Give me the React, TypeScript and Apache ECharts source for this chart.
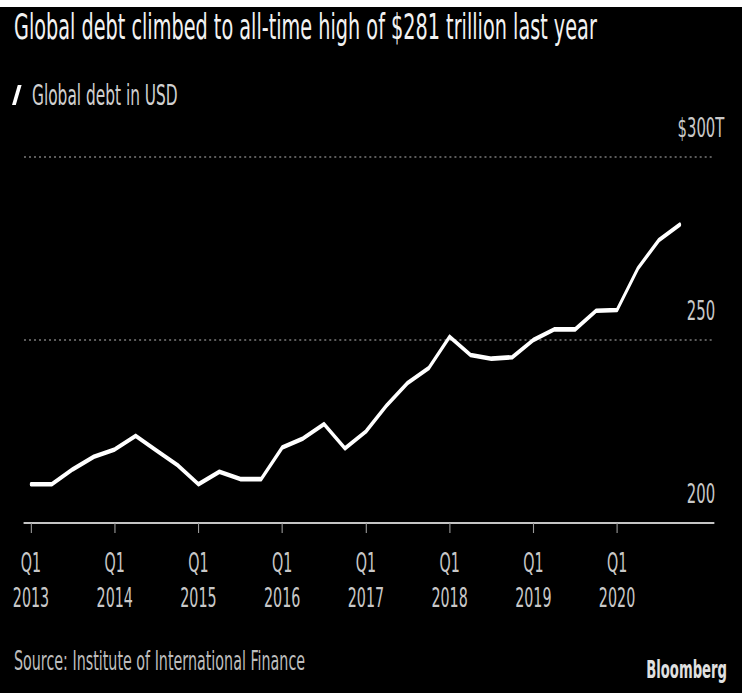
import React, { useEffect, useRef } from "react";
import * as echarts from "echarts";

// ---- data ----
const quarters = [
  "2013 Q1", "2013 Q2", "2013 Q3", "2013 Q4",
  "2014 Q1", "2014 Q2", "2014 Q3", "2014 Q4",
  "2015 Q1", "2015 Q2", "2015 Q3", "2015 Q4",
  "2016 Q1", "2016 Q2", "2016 Q3", "2016 Q4",
  "2017 Q1", "2017 Q2", "2017 Q3", "2017 Q4",
  "2018 Q1", "2018 Q2", "2018 Q3", "2018 Q4",
  "2019 Q1", "2019 Q2", "2019 Q3", "2019 Q4",
  "2020 Q1", "2020 Q2", "2020 Q3", "2020 Q4",
];
const globalDebt = [
  210.6, 210.6, 214.7, 218.1,
  220.1, 223.8, 219.8, 215.8,
  210.6, 214.0, 212.0, 212.0,
  220.6, 223.1, 227.0, 220.4,
  225.0, 232.2, 238.3, 242.3,
  250.9, 245.9, 244.9, 245.3,
  250.0, 252.9, 252.9, 258.0,
  258.2, 269.6, 277.3, 281.5,
];
const tickIndices = [0, 4, 8, 12, 16, 20, 24, 28];
const tickLabels = [
  "Q1\n2013", "Q1\n2014", "Q1\n2015", "Q1\n2016",
  "Q1\n2017", "Q1\n2018", "Q1\n2019", "Q1\n2020",
];
const yTicks = [200, 250, 300];
const yTickLabels = ["200", "250", "$300T"];

const titleText = "Global debt climbed to all-time high of $281 trillion last year";
const seriesName = "Global debt in USD";
const sourceText = "Source: Institute of International Finance";
const brandText = "Bloomberg";

// horizontal squeeze of the whole picture
const K = 0.55;
const W = 742 / K;
const H = 693;
const FONT = "DejaVu Sans";

export default function App() {
  const ref = useRef<HTMLDivElement>(null);

  useEffect(() => {
    if (!ref.current) return;
    const chart = echarts.init(ref.current, undefined, { renderer: "svg" });
    const px = (x: number) => x / K;

    chart.setOption({
      animation: false,
      backgroundColor: "#000",
      textStyle: { fontFamily: FONT },
      grid: {
        left: px(24),
        right: W - px(714),
        top: 157,
        bottom: H - 523,
        containLabel: false,
      },
      xAxis: {
        type: "value",
        min: -0.336,
        max: 32.63,
        axisLine: { show: true, lineStyle: { color: "#c4c4c4", width: 2 } },
        axisTick: {
          show: true,
          customValues: tickIndices,
          length: 10,
          lineStyle: { color: "#9a9a9a", width: 2 },
        },
        axisLabel: {
          customValues: tickIndices,
          formatter: (v: number) => {
            const i = tickIndices.indexOf(Math.round(v));
            return i >= 0 ? tickLabels[i] : "";
          },
          color: "#c8c8c8",
          fontSize: 26,
          fontFamily: FONT,
          lineHeight: 35,
          margin: 23,
        },
        splitLine: { show: false },
      },
      yAxis: {
        type: "value",
        position: "right",
        min: 200,
        max: 300,
        interval: 50,
        axisLine: { show: false },
        axisTick: { show: false },
        axisLabel: {
          inside: true,
          align: "center",
          verticalAlign: "bottom",
          margin: px(714) - px(701),
          padding: [0, 0, 15, 0],
          lineHeight: 28,
          color: "#c8c8c8",
          fontSize: 27,
          fontFamily: FONT,
          formatter: (v: number) => {
            const i = yTicks.indexOf(v);
            return i >= 0 ? yTickLabels[i] : "";
          },
        },
        splitLine: {
          show: true,
          lineStyle: { color: "#5c5c5c", width: 2, type: [3.6, 5.5] },
        },
      },
      series: [
        {
          name: seriesName,
          type: "line",
          data: quarters.map((q, i) => [i, globalDebt[i]]),
          showSymbol: false,
          symbol: "none",
          lineStyle: { color: "#ffffff", width: 4.6, join: "round", cap: "round" },
          itemStyle: { color: "#ffffff" },
          z: 5,
        },
      ],
      graphic: [
        {
          type: "rect",
          shape: { x: 0, y: 0, width: W, height: 7 },
          style: { fill: "#ffffff" },
        },
        {
          type: "text",
          x: px(14),
          y: 27,
          style: {
            text: titleText,
            fill: "#f2f2f2",
            fontSize: 35,
            fontFamily: FONT,
            verticalAlign: "middle",
            align: "left",
          },
        },
        {
          type: "polygon",
          shape: {
            points: [
              [px(17.8), 85],
              [px(21.6), 85],
              [px(15.8), 105],
              [px(12), 105],
            ],
          },
          style: { fill: "#ffffff" },
        },
        {
          type: "text",
          x: px(32),
          y: 95,
          style: {
            text: seriesName,
            fill: "#d0d0d0",
            fontSize: 28,
            fontFamily: FONT,
            verticalAlign: "middle",
            align: "left",
          },
        },
        {
          type: "text",
          x: px(14),
          y: 661,
          style: {
            text: sourceText,
            fill: "#bdbdbd",
            fontSize: 26,
            fontFamily: FONT,
            verticalAlign: "middle",
            align: "left",
          },
        },
        {
          type: "text",
          x: px(727),
          y: 670,
          style: {
            text: brandText,
            fill: "#e0e0e0",
            fontSize: 24,
            fontWeight: "bold",
            fontFamily: FONT,
            verticalAlign: "middle",
            align: "right",
          },
        },
      ],
    });

    return () => chart.dispose();
  }, []);

  return (
    <div
      style={{
        position: "fixed",
        left: 0,
        top: 0,
        width: 742,
        height: 693,
        overflow: "hidden",
        background: "#000",
      }}
    >
      <div
        ref={ref}
        style={{
          width: W,
          height: H,
          transform: `scaleX(${K})`,
          transformOrigin: "0 0",
        }}
      />
    </div>
  );
}
